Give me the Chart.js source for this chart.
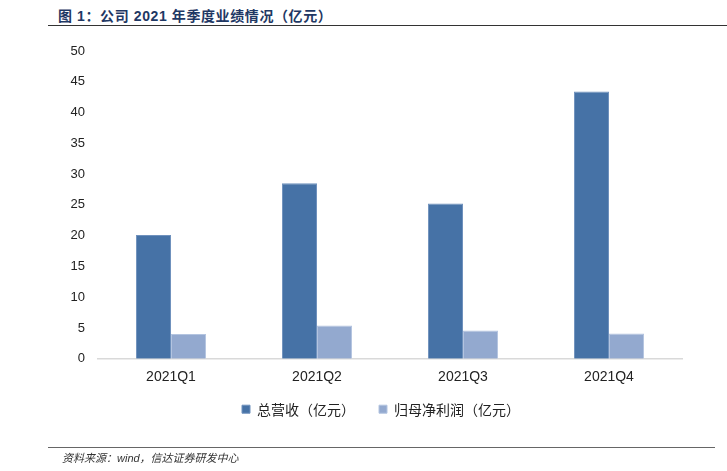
<!DOCTYPE html>
<html>
<head>
<meta charset="utf-8">
<script src="https://cdn.jsdelivr.net/npm/chart.js@4"></script>
<style>
  body { margin: 0; background: #fff; }
  #wrap { position: relative; width: 727px; height: 471px; overflow: hidden; }
  #title {
    position: absolute; left: 58px; top: 5px;
    font: bold 14px "Liberation Sans", "Noto Sans CJK SC", sans-serif;
    color: #1f3864; letter-spacing: 0.6px;
  }
  #topRule { position: absolute; left: 48px; right: 0; top: 25px; border-top: 1.5px solid #333; }
  #bottomRule { position: absolute; left: 48px; width: 667px; top: 447px; border-top: 1.5px solid #666; }
  #source {
    position: absolute; left: 62px; top: 449px;
    font: italic 11px "Liberation Sans", "Noto Sans CJK SC", sans-serif; color: #333;
  }
  #chartBox { position: absolute; left: 0; top: 0; width: 727px; height: 471px; }
</style>
</head>
<body>
<div id="wrap">
  <div id="title">图 1：公司 2021 年季度业绩情况（亿元）</div>
  <div id="topRule"></div>
  <div id="chartBox"><canvas id="perfChart"></canvas></div>
  <div id="bottomRule"></div>
  <div id="source">资料来源：wind，信达证券研发中心</div>
</div>
<script>
const quarters = ["2021Q1", "2021Q2", "2021Q3", "2021Q4"];
const revenue = [20.1, 28.5, 25.2, 43.4];
const netProfit = [4.0, 5.4, 4.6, 4.1];
const seriesNames = ["总营收（亿元）", "归母净利润（亿元）"];
const seriesColors = ["#4672a6", "#93a9cf"];

const fontFamily = "'Liberation Sans', 'Noto Sans CJK SC', sans-serif";

// nudge the legend: wide item gap like the original, but sitting closer under the axis
const legendNudge = {
  id: "legendNudge",
  afterLayout(chart) {
    const lg = chart.legend;
    if (!lg) return;
    const h = lg.bottom - lg.top;
    lg.left = 80;
    lg.top = chart.chartArea.bottom + 19.5;
    lg.bottom = lg.top + h;
  }
};

function initPerfChart() {
  const el = document.getElementById("perfChart");
  if (!el) return console.error("perfChart canvas not found");
  new Chart(el.getContext("2d"), {
    type: "bar",
    data: {
      labels: quarters,
      datasets: [
        { label: seriesNames[0], data: revenue, backgroundColor: seriesColors[0],
          borderColor: "#6f91bd", borderWidth: 1 },
        { label: seriesNames[1], data: netProfit, backgroundColor: seriesColors[1],
          borderColor: "#b3c4e0", borderWidth: 1 }
      ]
    },
    plugins: [legendNudge],
    options: {
      responsive: true,
      maintainAspectRatio: false,
      animation: false,
      layout: { padding: { top: 51, right: 45, bottom: 27.5, left: 0 } },
      datasets: { bar: { categoryPercentage: 0.48, barPercentage: 1.0 } },
      scales: {
        x: {
          grid: { display: false, drawTicks: false },
          border: { display: true, color: "#d9d9d9", width: 1.5 },
          ticks: { color: "#222", font: { family: fontFamily, size: 14 }, padding: 10 }
        },
        y: {
          min: 0, max: 50,
          afterFit: scale => { scale.width = 98; },
          grid: { display: false, drawTicks: false },
          border: { display: false },
          ticks: { stepSize: 5, color: "#222", font: { family: fontFamily, size: 13 }, padding: 13 }
        }
      },
      plugins: {
        legend: {
          position: "bottom",
          labels: {
            boxWidth: 8, boxHeight: 8, padding: 24, color: "#222",
            font: { family: "'Noto Sans CJK SC', sans-serif", size: 14 }
          }
        },
        tooltip: { enabled: false }
      }
    }
  });
}

document.addEventListener("DOMContentLoaded", initPerfChart);
</script>
</body>
</html>
